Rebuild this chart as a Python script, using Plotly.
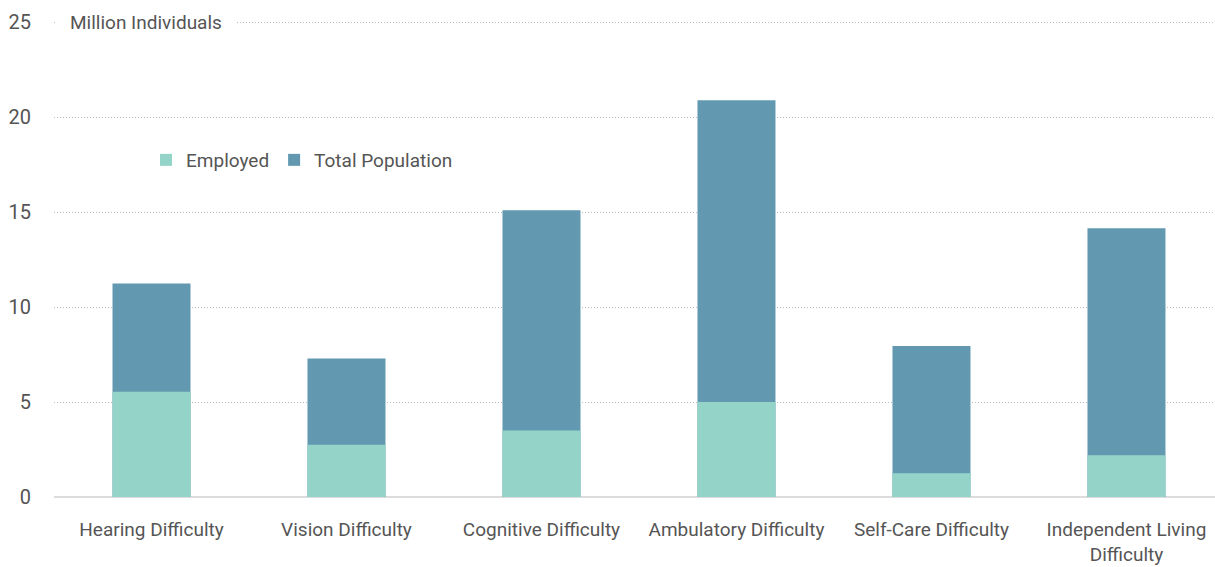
import plotly.graph_objects as go

categories = ["Hearing Difficulty", "Vision Difficulty", "Cognitive Difficulty",
              "Ambulatory Difficulty", "Self-Care Difficulty", "Independent Living<br>Difficulty"]
total_population = [11.25, 7.3, 15.1, 20.9, 7.95, 14.15]
employed = [5.55, 2.75, 3.5, 5.0, 1.25, 2.2]
y_ticks = [0, 5, 10, 15, 20, 25]

FONT = "Roboto"
TEXT = "#555555"
Y_MAX = 25.6

fig = go.Figure()
fig.add_trace(go.Bar(x=categories, y=total_population, name="Total Population",
                     marker=dict(color="#6298b0", line=dict(width=0)), width=0.4))
fig.add_trace(go.Bar(x=categories, y=employed, name="Employed",
                     marker=dict(color="#94d4c8", line=dict(width=0)), width=0.4))

fig.update_layout(
    width=1215, height=567,
    margin=dict(l=54, r=0, t=11, b=70),
    paper_bgcolor="white", plot_bgcolor="white",
    barmode="overlay",
    font=dict(family=FONT, color=TEXT),
    legend=dict(orientation="h", x=(146 - 54) / 1161, y=(497 - 160) / 486,
                xanchor="left", yanchor="middle", traceorder="reversed",
                font=dict(size=19, color=TEXT), itemwidth=30,
                bgcolor="rgba(0,0,0,0)"),
    xaxis=dict(range=[-0.5, 5.454], showgrid=False, showline=False, zeroline=False,
               ticks="", tickfont=dict(size=19, color=TEXT), tickangle=0,
               ticklabelstandoff=19),
    yaxis=dict(range=[0, Y_MAX], tickvals=y_ticks, showgrid=True, gridcolor="#bdbdbd",
               griddash="1px,2px", gridwidth=1, zeroline=True, zerolinecolor="#dcdcdc",
               zerolinewidth=2, ticks="", tickfont=dict(size=20, color=TEXT),
               ticklabelstandoff=22),
    bargap=0.6,
)

fig.add_annotation(text="Million Individuals", xref="paper", yref="y", x=1 / 1161,
                   y=25, xanchor="left", yanchor="middle", showarrow=False,
                   font=dict(size=19, color=TEXT), bgcolor="white", borderpad=14)

fig.write_html("out.html")
